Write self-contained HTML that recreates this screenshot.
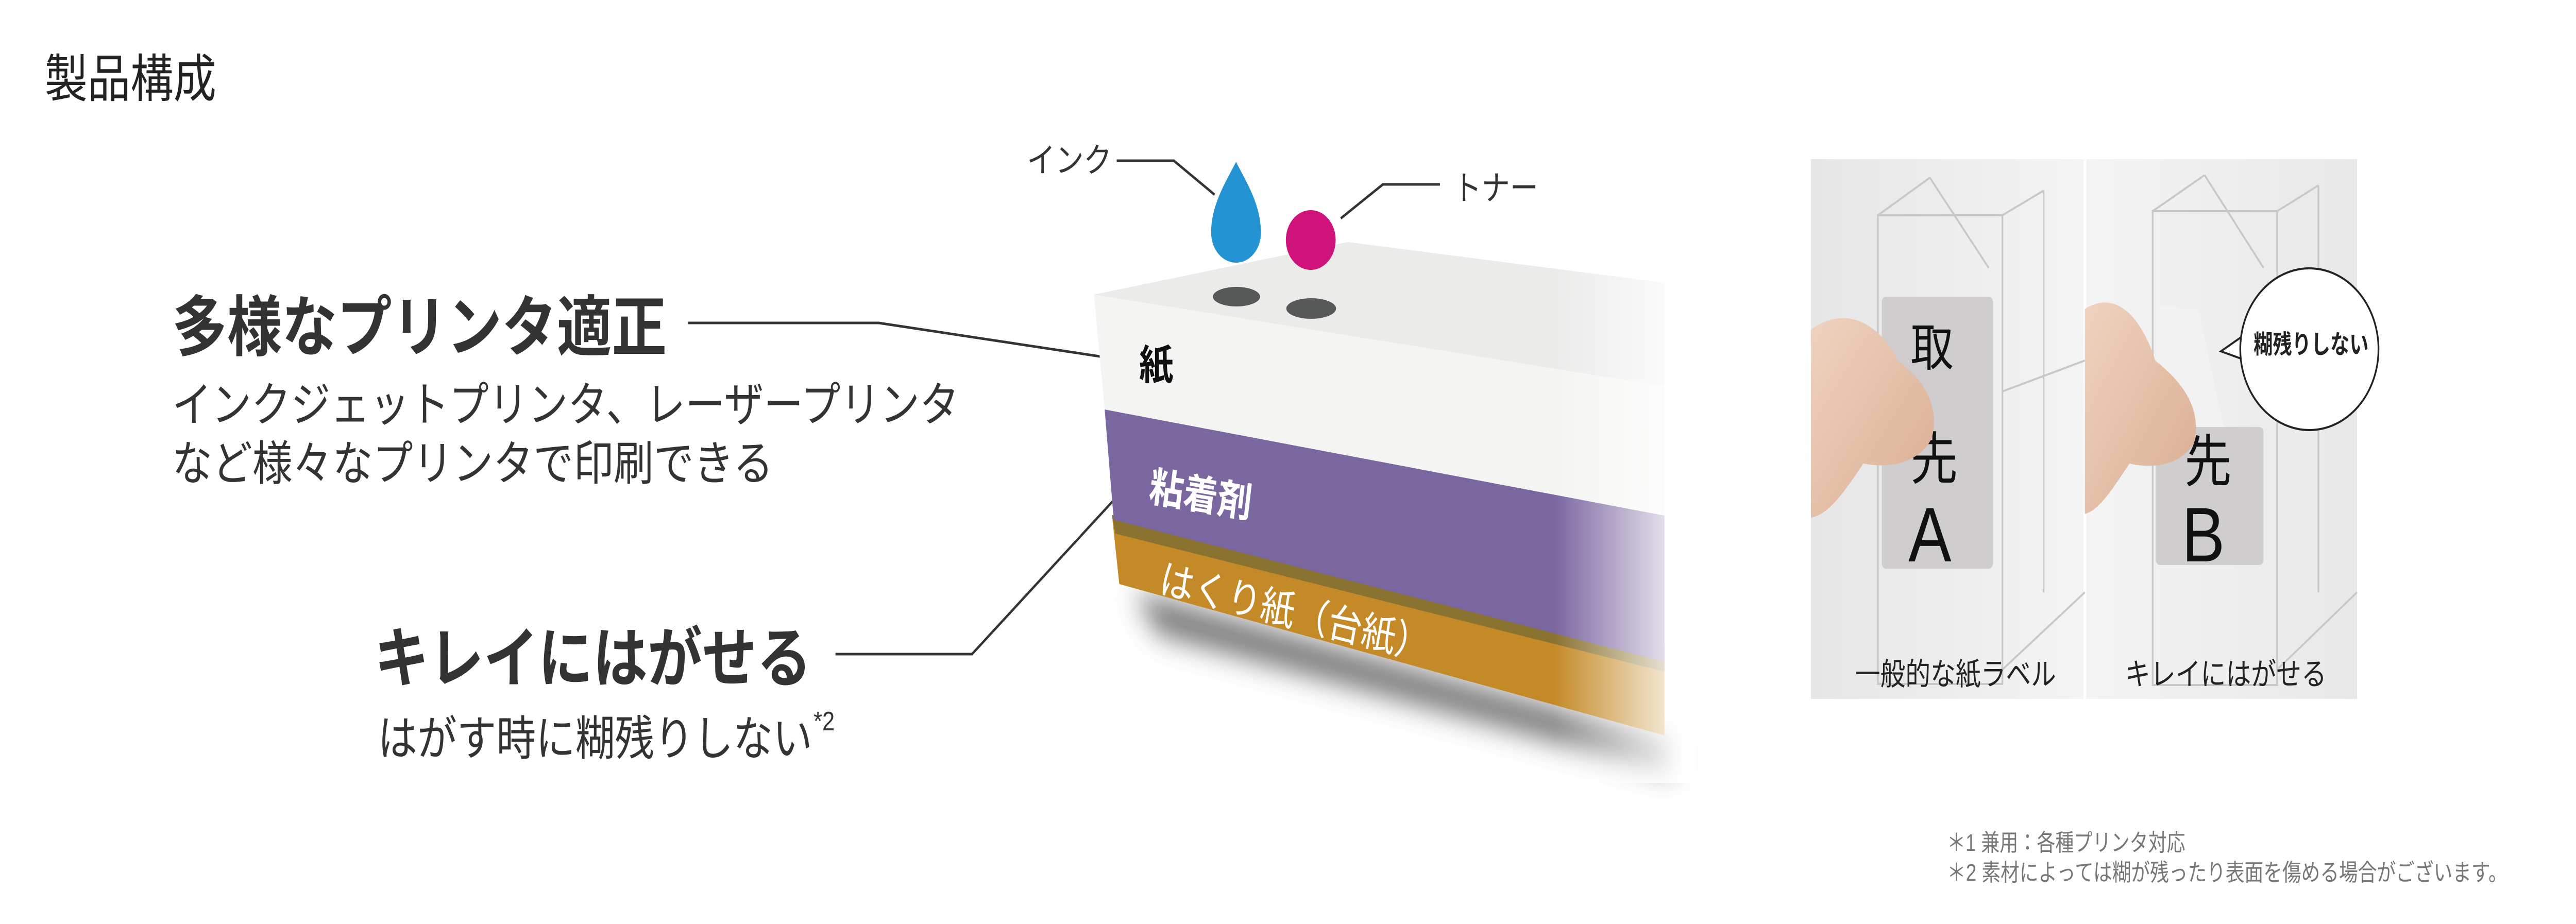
<!DOCTYPE html>
<html><head><meta charset="utf-8"><style>
html,body{margin:0;padding:0;background:#fff;width:100%;height:100%;overflow:hidden;}
svg{display:block;position:fixed;left:0;top:0;width:100vw;height:100vh;}
text{font-family:"Liberation Sans","Noto Sans CJK JP",sans-serif;}
</style></head><body>
<svg viewBox="0 0 6000 1794" preserveAspectRatio="none" xmlns="http://www.w3.org/2000/svg">
<defs>
<filter id="blur" x="-20%" y="-50%" width="140%" height="200%"><feGaussianBlur stdDeviation="28"/></filter>
<linearGradient id="fade" x1="0" x2="1" y1="0" y2="0">
<stop offset="0" stop-color="#fff" stop-opacity="0"/><stop offset="1" stop-color="#fff" stop-opacity="1"/></linearGradient>
<linearGradient id="photobg" x1="0" x2="1" y1="0" y2="0">
<stop offset="0" stop-color="#e6e6e6"/><stop offset="0.5" stop-color="#f4f4f4"/><stop offset="1" stop-color="#e8e8e8"/></linearGradient>
<linearGradient id="skin" x1="0" x2="1" y1="0" y2="1">
<stop offset="0" stop-color="#efd3bf"/><stop offset="1" stop-color="#d9ad92"/></linearGradient>
</defs>

<text x="104" y="188" font-size="100" fill="#222">製品構成</text>

<text x="401" y="680" font-size="128" font-weight="bold" fill="#333" textLength="1152" lengthAdjust="spacingAndGlyphs">多様なプリンタ適正</text>
<text x="401" y="818" font-size="92" fill="#333" textLength="1833" lengthAdjust="spacingAndGlyphs">インクジェットプリンタ、レーザープリンタ</text>
<text x="401" y="932" font-size="92" fill="#333" textLength="1400" lengthAdjust="spacingAndGlyphs">など様々なプリンタで印刷できる</text>
<text x="872" y="1323" font-size="127" font-weight="bold" fill="#333" textLength="1018" lengthAdjust="spacingAndGlyphs">キレイにはがせる</text>
<text x="880" y="1466" font-size="92" fill="#333" textLength="1012" lengthAdjust="spacingAndGlyphs">はがす時に糊残りしない</text>
<text x="1895" y="1418" font-size="52" fill="#333">*2</text>

<g stroke="#333" stroke-width="5" fill="none">
<polyline points="1603,627 2047,627 2617,699"/>
<polyline points="1946,1270 2264,1270 2645,925"/>
<polyline points="2601,312 2734,312 2829,378"/>
<polyline points="3123,424 3221,358 3354,358"/>
</g>
<text x="2392" y="334" font-size="66" fill="#333">インク</text>
<text x="3385" y="388" font-size="66" fill="#333">トナー</text>

<polygon points="2640,1150 3900,1440 3900,1500 2700,1230" fill="#555" filter="url(#blur)" opacity="0.85"/>

<polygon points="2590,1000 3877,1250 3877,1428 2607,1134" fill="#c48a28"/>
<polygon points="2590,1000 3877,1250 3877,1304 2598,1036" fill="#8a7230"/>
<polygon points="2573,795 3877,1001 3877,1285 2594,1009" fill="#7b67a0"/>
<polygon points="2548,572 3877,750 3877,1001 2573,795" fill="#f4f4f2"/>
<polygon points="2548,572 3139,470 3877,549 3877,750" fill="#ebebea"/>
<rect x="3620" y="440" width="330" height="1080" fill="url(#fade)"/>

<ellipse cx="2880" cy="576" rx="55" ry="19" fill="#565958"/>
<ellipse cx="3054" cy="599" rx="58" ry="20" fill="#565958"/>
<path d="M2879,314 C2900,350 2937,395 2937,452 A58,58 0 0 1 2821,452 C2821,395 2858,350 2879,314 Z" fill="#2393d3"/>
<ellipse cx="3053" cy="466" rx="58" ry="58" fill="#d0137a"/>

<text x="2653" y="737" font-size="80" font-weight="bold" fill="#111">紙</text>
<text x="2674" y="972" font-size="80" fill="#fff" font-weight="bold" transform="rotate(8 2674 972)">粘着剤</text>
<text x="2697" y="1150" font-size="80" fill="#fff" transform="rotate(12 2697 1150)">はくり紙（台紙）</text>

<rect x="4218" y="309" width="1272" height="1048" fill="url(#photobg)"/>
<line x1="4856" y1="309" x2="4856" y2="1357" stroke="#fff" stroke-width="6"/>
<g stroke="#c8c8c8" stroke-width="4" fill="none">
<rect x="4374" y="418" width="290" height="910"/>
<line x1="4374" y1="418" x2="4495" y2="345"/>
<line x1="4495" y1="345" x2="4632" y2="520"/>
<line x1="4664" y1="418" x2="4760" y2="370"/>
<line x1="4760" y1="370" x2="4760" y2="1150"/>
<line x1="4664" y1="760" x2="4856" y2="700"/>
<line x1="4664" y1="1300" x2="4856" y2="1150"/>
<rect x="5014" y="410" width="290" height="920"/>
<line x1="5014" y1="410" x2="5135" y2="340"/>
<line x1="5135" y1="340" x2="5272" y2="520"/>
<line x1="5304" y1="410" x2="5400" y2="360"/>
<line x1="5400" y1="360" x2="5400" y2="1150"/>
<line x1="5304" y1="780" x2="5490" y2="720"/>
<line x1="5304" y1="1300" x2="5490" y2="1150"/>
</g>
<rect x="4383" y="576" width="259" height="528" rx="10" fill="#cfcdcd"/>
<text x="4450" y="710" font-size="100" fill="#111">取</text>
<text x="4450" y="930" font-size="110" fill="#111">先</text>
<text x="4445" y="1090" font-size="150" fill="#111">A</text>
<rect x="5021" y="829" width="251" height="268" rx="10" fill="#cfcdcd"/>
<polygon points="5021,594 5120,600 5180,829 5021,829" fill="#f2f2f2" opacity="0.9"/>
<text x="5088" y="935" font-size="110" fill="#111">先</text>
<text x="5082" y="1090" font-size="150" fill="#111">B</text>
<path d="M4218,640 C4300,590 4380,630 4420,700 C4470,730 4520,780 4500,850 C4470,900 4400,910 4340,900 C4300,950 4260,1000 4218,1005 Z" fill="url(#skin)"/>
<path d="M4856,600 C4930,560 4990,620 5020,700 C5080,740 5130,790 5110,860 C5080,905 5010,910 4960,900 C4920,950 4890,990 4856,998 Z" fill="url(#skin)"/>
<path d="M5228,650 L5173,682 L5232,700" fill="#fff" stroke="#222" stroke-width="4"/>
<ellipse cx="5379" cy="678" rx="161" ry="157" fill="#fff" stroke="#222" stroke-width="4"/>
<path d="M5226,652 L5236,700" stroke="#fff" stroke-width="8"/>
<text x="5249" y="686" font-size="50" font-weight="bold" fill="#222" textLength="268" lengthAdjust="spacingAndGlyphs">糊残りしない</text>
<text x="4321" y="1330" font-size="60" fill="#222" textLength="468" lengthAdjust="spacingAndGlyphs">一般的な紙ラベル</text>
<text x="4950" y="1330" font-size="60" fill="#222" textLength="469" lengthAdjust="spacingAndGlyphs">キレイにはがせる</text>

<text x="4535" y="1652" font-size="46" fill="#777" textLength="555" lengthAdjust="spacingAndGlyphs">＊1 兼用：各種プリンタ対応</text>
<text x="4535" y="1710" font-size="46" fill="#777" textLength="1305" lengthAdjust="spacingAndGlyphs">＊2 素材によっては糊が残ったり表面を傷める場合がございます。</text>
</svg>
</body></html>
